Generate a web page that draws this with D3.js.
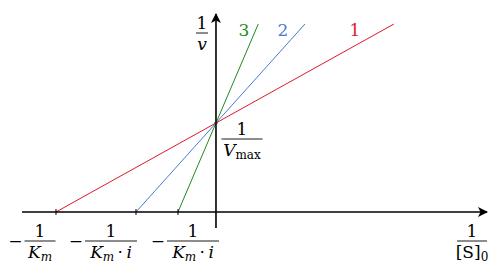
<!DOCTYPE html>
<html lang="en">
<head>
	<meta charset="utf-8">
	<title>Lineweaver-Burk</title>
	<script src="https://cdnjs.cloudflare.com/ajax/libs/d3/7.8.5/d3.min.js"></script>
	<style>
	body { margin: 0; background: #fff; }
	svg text { font-family: "DejaVu Serif", serif; }
	</style>
</head>
<body>
<svg id="chart" width="500" height="276"></svg>
<script>
// data: 1/v = 1/Vmax + slope * 1/[S]0
var lineNames = ['1', '2', '3'];
var xIntercepts = [-1, -0.5, -0.2375];
var yIntercept = 1;
var lineColors = ['#e0182a', '#4a7bd3', '#1f8a1f'];
var tickDenoms = ['K', 'K', 'K'];
var tickSubs = ['m', 'm', 'm'];
var tickExtra = [false, true, true];
var lineTop = 2.112;

var svg = d3.select('#chart');

var x = d3.scaleLinear().domain([-1.2125, 1.694]).range([22, 487]);
var y = d3.scaleLinear().domain([-0.18, 2.225]).range([228, 14]);

svg.append('defs').append('marker')
	.attr('id', 'arr').attr('viewBox', '0 0 10 10')
	.attr('refX', 9).attr('refY', 5)
	.attr('markerWidth', 10).attr('markerHeight', 10)
	.attr('markerUnits', 'userSpaceOnUse')
	.attr('orient', 'auto')
	.append('path').attr('d', 'M0,0 L10,5 L0,10 L2.5,5 Z').attr('fill', '#000');

// lines
lineNames.forEach(function(n, i) {
	var slope = yIntercept / -xIntercepts[i];
	var xEnd = (lineTop - yIntercept) / slope;
	svg.append('line')
		.attr('x1', x(xIntercepts[i])).attr('y1', y(0))
		.attr('x2', x(xEnd)).attr('y2', y(lineTop))
		.attr('stroke', lineColors[i]).attr('stroke-width', 1);
});

// axes
svg.append('line')
	.attr('x1', x(-1.2125)).attr('y1', y(0)).attr('x2', x(1.694)).attr('y2', y(0))
	.attr('stroke', '#000').attr('stroke-width', 1.6).attr('marker-end', 'url(#arr)');
svg.append('line')
	.attr('x1', x(0)).attr('y1', y(-0.18)).attr('x2', x(0)).attr('y2', y(2.225))
	.attr('stroke', '#000').attr('stroke-width', 1.6).attr('marker-end', 'url(#arr)');

// ticks
xIntercepts.forEach(function(v) {
	svg.append('line')
		.attr('x1', x(v)).attr('x2', x(v))
		.attr('y1', y(0) - 3).attr('y2', y(0) + 3)
		.attr('stroke', '#000').attr('stroke-width', 1);
});
svg.append('circle').attr('cx', x(0)).attr('cy', y(yIntercept)).attr('r', 1.6).attr('fill', '#222');

// line labels
var labelPos = [[355, 36], [283, 36], [244, 36]];
lineNames.forEach(function(n, i) {
	svg.append('text').attr('x', labelPos[i][0]).attr('y', labelPos[i][1])
		.attr('text-anchor', 'middle').attr('font-size', 17)
		.attr('fill', lineColors[i]).text(n);
});

// fraction helper
function frac(cx, yBar, w, num, den) {
	var g = svg.append('g');
	g.append('text').attr('x', cx).attr('y', yBar - 4)
		.attr('text-anchor', 'middle').attr('font-size', 17).text(num);
	g.append('line').attr('x1', cx - w / 2).attr('x2', cx + w / 2)
		.attr('y1', yBar).attr('y2', yBar).attr('stroke', '#000').attr('stroke-width', 0.9);
	var t = g.append('text').attr('x', cx).attr('y', yBar + 17)
		.attr('text-anchor', 'middle').attr('font-size', 17);
	den(t);
	return g;
}

// x tick labels
var tickCx = [40, 111, 193];
var tickW = [31, 52, 52];
xIntercepts.forEach(function(v, i) {
	svg.append('text').attr('x', tickCx[i] - tickW[i] / 2 - 2).attr('y', 247)
		.attr('text-anchor', 'end').attr('font-size', 17).text('−');
	frac(tickCx[i], 241, tickW[i], '1', function(t) {
		t.append('tspan').attr('font-style', 'italic').text(tickDenoms[i]);
		t.append('tspan').attr('font-style', 'italic').attr('font-size', 12).attr('dy', 3).text(tickSubs[i]);
		if (tickExtra[i]) {
			t.append('tspan').attr('dy', -3).text('\u2009·\u2009');
			t.append('tspan').attr('font-style', 'italic').text('i');
		}
	});
});

// axis labels
frac(202, 33, 12, '1', function(t) {
	t.append('tspan').attr('font-style', 'italic').text('v');
});
frac(242, 139, 41, '1', function(t) {
	t.append('tspan').attr('font-style', 'italic').text('V');
	t.append('tspan').attr('font-size', 12).attr('dy', 3).text('max');
});
frac(472, 241, 30, '1', function(t) {
	t.append('tspan').text('[S]');
	t.append('tspan').attr('font-size', 12).attr('dy', 3).text('0');
});
</script>
</body>
</html>
